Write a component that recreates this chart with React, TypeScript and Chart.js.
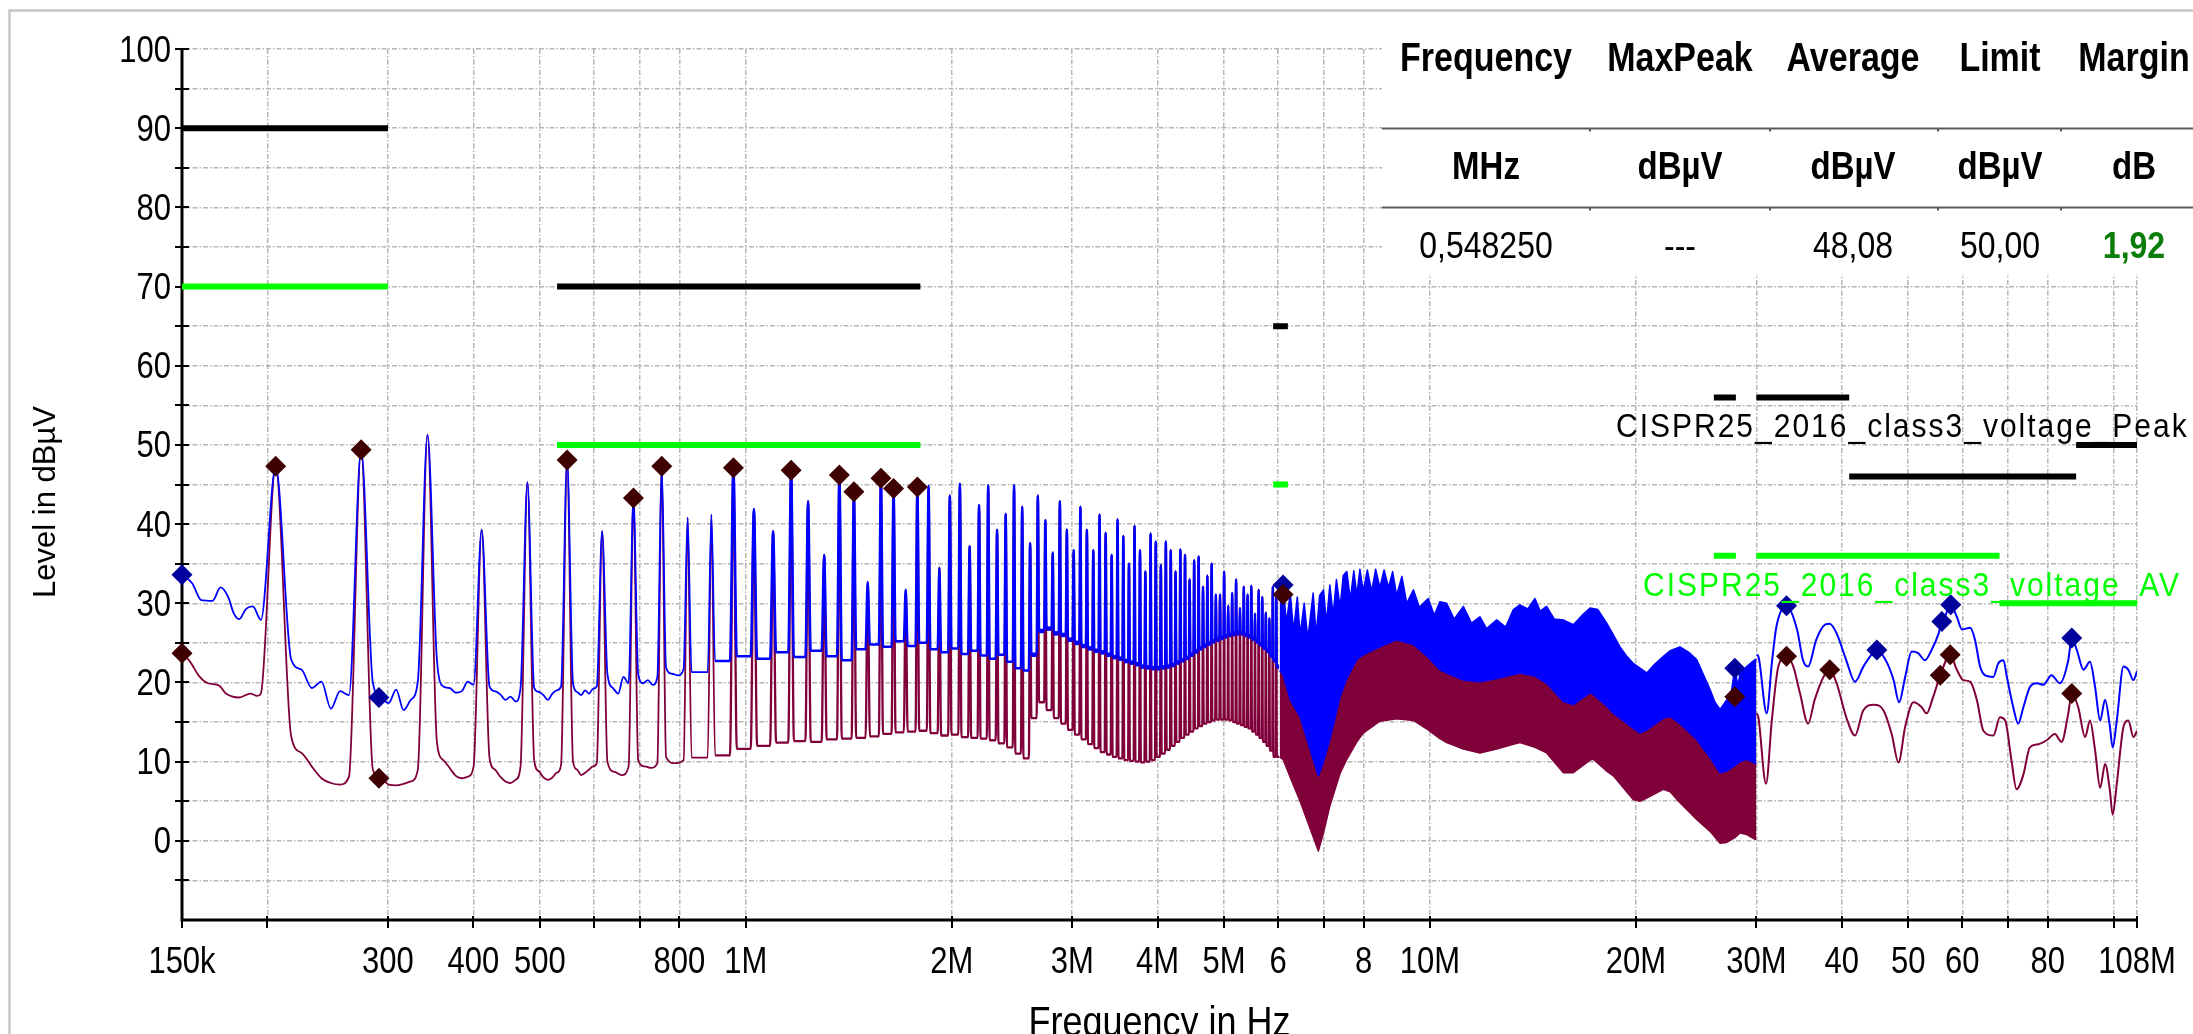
import React, { useEffect, useRef } from 'react';
import { Chart, registerables } from 'chart.js';

Chart.register(...registerables);

// ---------------- axes ----------------
const xMinHz = 150e3;
const xMaxHz = 108e6;
const xTickHz = [150e3, 200e3, 300e3, 400e3, 500e3, 600e3, 700e3, 800e3, 1e6, 2e6, 3e6, 4e6, 5e6, 6e6, 7e6, 8e6, 10e6, 20e6, 30e6, 40e6, 50e6, 60e6, 70e6, 80e6, 100e6, 108e6];
const xTickLabels = ['150k', '', '300', '400', '500', '', '', '800', '1M', '2M', '3M', '4M', '5M', '6', '', '8', '10M', '20M', '30M', '40', '50', '60', '', '80', '', '108M'];
const yTicks = [-10, -5, 0, 5, 10, 15, 20, 25, 30, 35, 40, 45, 50, 55, 60, 65, 70, 75, 80, 85, 90, 95, 100];
const yTickLabels = ['', '', '0', '', '10', '', '20', '', '30', '', '40', '', '50', '', '60', '', '70', '', '80', '', '90', '', '100'];
const xTitle = 'Frequency in Hz';
const yTitle = 'Level in dBµV';

// ---------------- result table ----------------
const tableHeaders = ['Frequency', 'MaxPeak', 'Average', 'Limit', 'Margin'];
const tableUnits = ['MHz', 'dBµV', 'dBµV', 'dBµV', 'dB'];
const tableValues = ['0,548250', '---', '48,08', '50,00', '1,92'];

// ---------------- limit lines (MHz, dBµV) ----------------
const peakLimitName = 'CISPR25_2016_class3_voltage_Peak';
const peakLimitStartMHz = [0.15, 0.53, 5.9, 26, 30, 41, 88];
const peakLimitEndMHz = [0.3, 1.8, 6.2, 28, 41, 88, 108];
const peakLimitLevel = [90, 70, 65, 56, 56, 46, 50];
const avLimitName = 'CISPR25_2016_class3_voltage_AV';
const avLimitStartMHz = [0.15, 0.53, 5.9, 26, 30, 68];
const avLimitEndMHz = [0.3, 1.8, 6.2, 28, 68, 108];
const avLimitLevel = [70, 50, 45, 36, 36, 30];

// ---------------- traces: 150k .. 196k ----------------
const peakStartMHz = [0.15, 0.1553, 0.16, 0.1662, 0.1708, 0.1752, 0.1786, 0.1819, 0.1861, 0.1904, 0.1956];
const peakStartLevel = [33.6, 32.5, 30.4, 30.3, 32.0, 30.8, 28.7, 28.0, 29.3, 29.6, 27.9];
const avgStartMHz = [0.15, 0.1542, 0.1589, 0.1637, 0.17, 0.1739, 0.1819, 0.1888, 0.1932, 0.1956];
const avgStartLevel = [23.7, 22.6, 20.8, 19.9, 19.6, 18.6, 18.1, 18.6, 18.3, 18.6];

// ---------------- harmonic lines 0.2 .. 6 MHz ----------------
const harmonicMHz = [
  0.2056, 0.2741, 0.3427, 0.4112, 0.4797, 0.5482, 0.6168, 0.6853, 0.7538, 0.8224,
  0.8909, 0.9594, 1.0280, 1.0965, 1.1650, 1.2335, 1.3021, 1.3706, 1.4391, 1.5077,
  1.5762, 1.6447, 1.7133, 1.7818, 1.8503, 1.9188, 1.9874, 2.0559, 2.1244, 2.1930,
  2.2615, 2.3300, 2.3986, 2.4671, 2.5356, 2.6041, 2.6727, 2.7412, 2.8097, 2.8783,
  2.9468, 3.0153, 3.0839, 3.1524, 3.2209, 3.2894, 3.3580, 3.4265, 3.4950, 3.5636,
  3.6321, 3.7006, 3.7692, 3.8377, 3.9062, 3.9747, 4.0433, 4.1118, 4.1803, 4.2489,
  4.3174, 4.3859, 4.4545, 4.5230, 4.5915, 4.6600, 4.7286, 4.7971, 4.8656, 4.9342,
  5.0027, 5.0712, 5.1398, 5.2083, 5.2768, 5.3453, 5.4139, 5.4824, 5.5509, 5.6195,
  5.6880, 5.7565, 5.8251, 5.8936, 5.9621,
];
const harmonicLevel = [
  47.3, 49.4, 51.3, 39.3, 45.3, 48.1, 39.1, 43.3, 47.3, 40.8,
  41.2, 47.1, 41.9, 39.1, 46.8, 42.9, 36.1, 46.2, 44.1, 32.7,
  45.8, 44.5, 31.7, 44.7, 44.8, 34.5, 43.6, 45.1, 37.2, 42.4,
  44.9, 39.3, 41.3, 44.9, 42.2, 37.6, 43.6, 40.5, 36.4, 42.9,
  39.3, 36.7, 42.2, 39.3, 36.7, 41.2, 38.9, 36.1, 40.6, 38.5,
  35.0, 39.8, 36.7, 34.0, 38.8, 37.8, 34.8, 37.8, 36.7, 34.0,
  36.8, 36.1, 33.0, 35.4, 35.9, 32.1, 33.5, 35.0, 31.1, 31.1,
  34.0, 29.7, 31.3, 33.0, 29.4, 32.1, 31.1, 32.2, 28.7, 31.7,
  30.8, 28.8, 28.1, 32.1, 31.0,
];
// floor between the first harmonics (readings across each gap)
const peakGapsLow = [
  [22.9, 21.6, 19.3, 20.1, 16.7, 18.9, 18.4],
  [20.0, 18.1, 17.4, 19.1, 16.5, 17.8, 20.1],
  [22.9, 19.5, 19.3, 18.7, 18.9, 20.1, 19.7],
  [19.5, 18.9, 18.5, 17.8, 18.2, 17.6, 19.3],
  [19.3, 18.8, 18.4, 17.8, 18.6, 19.0, 19.5],
  [19.9, 18.8, 18.4, 19.0, 18.6, 19.2, 19.5],
  [21.1, 19.3, 18.6, 20.7, 19.9],
  [21.1, 19.9, 20.3, 19.7, 20.7],
  [21.9, 21.1, 20.9, 21.7],
];
const avgGapsLow = [
  [13.2, 11.1, 9.4, 7.9, 7.3, 7.1, 8.1],
  [9.0, 7.9, 7.1, 7.0, 7.2, 7.5, 9.0],
  [12.5, 10.2, 9.2, 8.2, 7.9, 8.1, 9.4],
  [10.5, 9.0, 8.1, 7.5, 7.3, 7.7, 9.4],
  [10.2, 8.8, 8.0, 7.7, 8.0, 8.6, 9.6],
  [10.0, 9.0, 8.3, 8.6, 9.0, 9.4, 9.8],
  [10.0, 8.7, 8.3, 9.4],
  [10.2, 9.4, 9.2, 9.8],
  [10.6, 9.8, 10.2],
];
// floor between the remaining harmonics (one reading per gap)
const peakGapFloor = [
  21.3, 22.7, 23.3, 23.0, 23.8, 23.2, 24.0, 23.3, 22.8, 24.2,
  24.8, 24.5, 25.2, 24.6, 25.0, 24.2, 23.8, 24.3, 23.6, 24.0,
  23.4, 23.0, 23.5, 22.6, 21.8, 21.5, 23.5, 26.5, 26.8, 26.2,
  26.0, 25.4, 25.0, 24.6, 24.3, 24.0, 23.8, 23.5, 23.2, 23.0,
  22.7, 22.5, 22.3, 22.0, 21.9, 21.8, 21.8, 21.9, 22.0, 22.2,
  22.5, 22.8, 23.1, 23.5, 23.9, 24.3, 24.6, 24.9, 25.2, 25.4,
  25.6, 25.8, 26.0, 26.1, 26.2, 26.2, 26.0, 25.8, 25.5, 25.2,
  24.8, 24.4, 24.0, 23.4, 22.8, 22.0,
];
const avgGapFloor = [
  10.5, 10.8, 11.6, 12.0, 12.4, 12.6, 12.5, 12.8, 12.9, 13.0,
  13.2, 13.5, 13.7, 13.8, 13.9, 13.6, 13.3, 13.4, 13.1, 13.0,
  12.9, 12.7, 12.3, 11.8, 11.0, 10.4, 15.5, 17.5, 16.5, 15.5,
  14.8, 14.0, 13.4, 12.8, 12.2, 11.7, 11.2, 10.9, 10.6, 10.4,
  10.2, 10.1, 10.0, 9.9, 10.0, 10.2, 10.6, 11.0, 11.5, 12.0,
  12.5, 13.0, 13.4, 13.8, 14.2, 14.5, 14.8, 15.0, 15.2, 15.3,
  15.3, 15.3, 15.2, 15.0, 14.8, 14.6, 14.4, 14.2, 13.8, 13.4,
  13.0, 12.5, 12.0, 11.4, 10.6, 10.6,
];

// ---------------- dense comb 6 .. 30 MHz ----------------
// upper edge (tops of the lines and the notches between them)
const combTopMHz = [
  6.03, 6.10, 6.17, 6.25, 6.32, 6.40, 6.46, 6.55, 6.63, 6.75,
  6.82, 6.90, 6.99, 7.06, 7.14, 7.22, 7.30, 7.39, 7.47, 7.56,
  7.65, 7.74, 7.82, 7.90, 7.99, 8.10, 8.22, 8.33, 8.45, 8.57,
  8.70, 8.82, 8.94, 9.10, 9.25, 9.46, 9.65, 9.94, 10.15, 10.34,
  10.58, 10.85, 11.19, 11.5, 11.83, 12.1, 12.52, 12.9, 13.24, 13.54,
  13.9, 14.24, 14.5, 14.81, 15.2, 15.67, 16.2, 16.7, 17.14, 17.6,
  18.13, 18.54, 18.96, 19.4, 19.83, 20.28, 20.74, 21.3, 21.94, 22.44,
  23.2, 23.9, 24.54, 25.1, 25.67, 26.1, 26.55, 27.15, 27.6, 27.9,
  28.2, 28.4, 29.04, 29.5, 29.87, 30.0,
];
const combTopLevel = [
  30.5, 32.3, 27.5, 31.3, 26.5, 30.8, 26.0, 30.0, 25.5, 31.3,
  26.0, 31.0, 31.7, 27.5, 32.3, 28.5, 33.0, 29.5, 33.5, 34.0,
  30.5, 34.1, 31.0, 34.3, 31.5, 34.2, 31.5, 34.3, 32.0, 34.2,
  32.0, 34.0, 31.0, 33.4, 30.0, 31.7, 29.5, 30.6, 28.5, 30.2,
  30.0, 28.0, 29.6, 27.5, 28.3, 26.8, 27.9, 27.0, 29.2, 29.8,
  29.3, 30.6, 29.0, 29.6, 28.0, 27.9, 27.3, 28.5, 29.4, 29.2,
  27.5, 26.0, 24.5, 23.3, 22.4, 21.8, 21.2, 22.3, 23.3, 24.0,
  24.5, 23.8, 22.9, 21.0, 19.1, 17.5, 16.6, 17.8, 19.0, 21.8,
  19.5, 21.2, 22.0, 22.5, 22.9, 22.9,
];
// lower edges of the MaxPeak and Average bands
const bandMHz = [6.03, 6.10, 6.25, 6.46, 6.75, 6.87, 6.99, 7.14, 7.39, 7.56, 7.82, 7.99, 8.45, 8.94, 9.46, 9.94, 10.34, 10.58, 11.19, 11.83, 12.52, 13.24, 13.54, 14.24, 14.81, 15.67, 16.2, 17.14, 17.33, 18.13, 18.54, 18.96, 19.83, 20.28, 20.74, 21.94, 22.44, 23.2, 24.54, 25.67, 26.55, 27.15, 27.9, 28.4, 29.04, 29.87, 30.0];
const bandPeakFloor = [21.5, 21.0, 17.8, 15.7, 10.3, 8.2, 10.0, 12.8, 18.2, 20.5, 22.9, 23.5, 24.5, 25.4, 24.8, 23.2, 21.6, 21.2, 20.3, 20.1, 20.5, 21.0, 21.2, 20.8, 19.9, 17.6, 17.2, 18.7, 18.5, 17.0, 16.1, 15.5, 14.2, 13.6, 14.0, 15.5, 15.7, 14.8, 12.8, 10.5, 8.6, 8.8, 9.5, 10.0, 10.3, 9.8, 9.8];
const bandAvgFloor = [10.6, 10.3, 8.0, 5.0, 0.5, -1.3, 1.0, 4.4, 8.5, 10.3, 12.5, 13.6, 15.1, 15.4, 15.2, 14.0, 12.9, 12.4, 11.6, 11.1, 11.6, 12.2, 12.4, 11.8, 11.1, 8.6, 8.6, 10.2, 10.3, 8.8, 8.2, 7.2, 5.2, 5.0, 5.4, 6.5, 6.2, 4.8, 2.7, 1.2, -0.3, -0.2, 0.4, 1.0, 0.8, 0.2, 0.2];

// ---------------- traces 30 .. 108 MHz ----------------
const peakHighMHz = [30.03, 30.2, 31.06, 31.6, 32.1, 33.2, 34.4, 35.1, 35.7, 36.7, 37.8, 38.4, 39.3, 40.6, 41.8, 43.0, 44.0, 45.0, 46.5, 47.6, 48.5, 49.5, 50.6, 51.7, 52.9, 54.1, 55.4, 56.0, 56.6, 57.6, 58.9, 59.9, 61.6, 62.6, 63.7, 64.8, 66.6, 67.7, 68.9, 69.7, 71.2, 72.4, 73.7, 75.3, 77.1, 78.8, 81.0, 83.3, 85.7, 86.7, 88.2, 90.2, 92.2, 93.8, 95.4, 97.0, 98.6, 99.5, 100.9, 103.2, 104.9, 106.7, 108];
const peakHighLevel = [23.5, 23.3, 16.1, 22.4, 27.1, 29.7, 26.7, 22.8, 22.0, 25.4, 27.3, 27.4, 26.2, 22.8, 20.1, 22.0, 23.3, 24.1, 22.6, 20.3, 17.5, 20.7, 23.9, 23.7, 22.8, 24.1, 26.2, 27.7, 28.3, 29.8, 28.3, 26.7, 26.9, 25.4, 22.0, 20.9, 20.7, 22.4, 22.8, 20.7, 16.9, 14.8, 16.9, 19.4, 19.9, 19.7, 20.9, 19.9, 22.8, 25.6, 24.1, 21.6, 22.6, 19.4, 15.2, 17.8, 14.4, 11.8, 15.2, 22.0, 21.6, 20.3, 21.4];
const avgHighMHz = [30.03, 30.2, 30.99, 31.6, 32.3, 33.2, 33.97, 34.75, 35.7, 36.5, 37.6, 38.4, 39.3, 40.6, 41.8, 43.0, 44.5, 46.0, 47.3, 48.4, 49.5, 50.9, 52.3, 53.2, 54.4, 55.7, 57.6, 58.9, 60.2, 61.6, 63.0, 64.4, 66.6, 68.1, 69.3, 70.8, 72.0, 73.7, 75.3, 77.5, 79.7, 81.9, 83.8, 85.7, 86.7, 88.6, 90.7, 92.2, 93.8, 95.4, 97.0, 98.6, 99.5, 100.9, 103.2, 104.9, 106.7, 108];
const avgHighLevel = [16.1, 15.6, 7.2, 15.2, 22.0, 23.3, 22.0, 18.6, 14.8, 17.8, 20.7, 21.6, 19.9, 15.6, 13.3, 16.5, 17.2, 16.5, 13.5, 9.9, 14.4, 17.5, 16.9, 16.1, 18.2, 20.9, 23.5, 21.6, 20.3, 20.1, 17.8, 13.9, 13.3, 15.6, 15.2, 10.1, 6.5, 8.4, 11.8, 12.2, 12.7, 13.5, 12.5, 16.1, 18.6, 16.9, 13.1, 15.2, 11.4, 6.7, 9.7, 6.3, 3.3, 7.2, 14.4, 15.2, 13.1, 13.9];

// ---------------- markers ----------------
const peakMarkerMHz = [0.15, 0.291, 6.10, 27.9, 33.2, 45.0, 56.0, 57.7, 86.7];
const peakMarkerLevel = [33.6, 18.1, 32.3, 21.8, 29.7, 24.1, 27.7, 29.8, 25.6];
const avgMarkerMHz = [0.15, 0.2056, 0.2741, 0.291, 0.5482, 0.6853, 0.7538, 0.9594, 1.165, 1.3706, 1.4391, 1.5762, 1.6447, 1.7818, 6.10, 27.9, 33.2, 38.4, 55.7, 57.6, 86.7];
const avgMarkerLevel = [23.7, 47.3, 49.4, 7.9, 48.1, 43.3, 47.3, 47.1, 46.8, 46.2, 44.1, 45.8, 44.5, 44.7, 31.1, 18.2, 23.3, 21.6, 20.9, 23.5, 18.6];

// ---------------- styles ----------------
const FONT = "'Liberation Sans', Arial, sans-serif";
const TEXT_STRETCH = 1.17; // the original rendering uses tall, narrow glyphs
const BLUE = '#0000ff';
const MAROON = '#80003a';
const BLUE_MARK = '#00009c';
const MAROON_MARK = '#3e0000';
const GREEN = '#00ff00';
const GRID = '#b6b6b6';
const MHZ = 1e6;
const SKIRT_HZ = 11e3; // half width of a harmonic line at its base (receiver bandwidth)

function pairs(fMHz: number[], lv: number[]) {
  return fMHz.map((f, i) => ({ x: f * MHZ, y: lv[i] }));
}

function combTrace(startF: number[], startL: number[], gapsLow: number[][], gapFloor: number[]) {
  const pts = pairs(startF, startL);
  for (let i = 0; i < harmonicMHz.length; i++) {
    const f = harmonicMHz[i] * MHZ;
    pts.push({ x: f, y: harmonicLevel[i] });
    const next = i + 1 < harmonicMHz.length ? harmonicMHz[i + 1] * MHZ : bandMHz[0] * MHZ;
    const a = f + SKIRT_HZ;
    const b = next - SKIRT_HZ;
    const g = i < gapsLow.length ? gapsLow[i] : [gapFloor[i - gapsLow.length]];
    if (g.length === 1) {
      pts.push({ x: a, y: g[0] }, { x: b, y: g[0] });
    } else {
      g.forEach((v, j) => pts.push({ x: a + ((b - a) * j) / (g.length - 1), y: v }));
    }
  }
  return pts;
}

function limitData(s: number[], e: number[], lv: number[]) {
  const out: any[] = [];
  s.forEach((f, i) => {
    if (i > 0) out.push({ x: ((e[i - 1] + f) / 2) * MHZ, y: null });
    out.push({ x: f * MHZ, y: lv[i] }, { x: e[i] * MHZ, y: lv[i] });
  });
  return out;
}

// the MaxPeak floor above 2.6 MHz is a dense noisy band: draw it wider
function peakSegmentWidth(c: any) {
  const x0 = c.p0.parsed.x;
  const flat = c.p0.parsed.y === c.p1.parsed.y;
  if (x0 < 0.9e6) return 1.8;
  if (flat && x0 > 2.6e6) return 4.5;
  return 2.5;
}
function avgSegmentWidth(c: any) {
  return c.p0.parsed.x < 0.9e6 ? 1.8 : 2.3;
}

function tallText(ctx: CanvasRenderingContext2D, text: string, x: number, baseline: number, k = TEXT_STRETCH) {
  ctx.save();
  ctx.translate(x, baseline);
  ctx.scale(1, k);
  ctx.fillText(text, 0, 0);
  ctx.restore();
}

const decorPlugin = {
  id: 'decor',
  beforeDraw(chart: any) {
    const ctx = chart.ctx;
    ctx.save();
    ctx.fillStyle = '#ffffff';
    ctx.fillRect(0, 0, chart.width, chart.height);
    ctx.strokeStyle = '#c6c6c6';
    ctx.lineWidth = 2.5;
    ctx.beginPath();
    ctx.moveTo(9.5, chart.height);
    ctx.lineTo(9.5, 10.5);
    ctx.lineTo(chart.width, 10.5);
    ctx.stroke();
    ctx.restore();
  },
  beforeDatasetsDraw(chart: any) {
    const { ctx } = chart;
    const xs = chart.scales.x;
    const ys = chart.scales.y;
    ctx.save();
    // result table backdrop
    ctx.fillStyle = '#ffffff';
    ctx.fillRect(1382, 14, chart.width - 1382, 260);
    // axes
    const left = xs.getPixelForValue(xMinHz);
    const right = xs.getPixelForValue(xMaxHz);
    const top = ys.getPixelForValue(100);
    const bottom = ys.getPixelForValue(-10);
    ctx.strokeStyle = '#000';
    ctx.lineWidth = 3;
    ctx.beginPath();
    ctx.moveTo(left, top - 1);
    ctx.lineTo(left, bottom);
    ctx.lineTo(right + 1, bottom);
    ctx.stroke();
    ctx.lineWidth = 2;
    ctx.beginPath();
    yTicks.forEach((v) => {
      if (v === -10) return;
      const py = Math.round(ys.getPixelForValue(v));
      ctx.moveTo(left - 7, py);
      ctx.lineTo(left + 7, py);
    });
    xTickHz.forEach((v) => {
      const px = Math.round(xs.getPixelForValue(v));
      ctx.moveTo(px, bottom - 4);
      ctx.lineTo(px, bottom + 8);
    });
    ctx.stroke();
    // tick labels
    ctx.fillStyle = '#000';
    ctx.font = `31px ${FONT}`;
    ctx.textAlign = 'right';
    yTicks.forEach((v, i) => {
      if (!yTickLabels[i]) return;
      tallText(ctx, yTickLabels[i], left - 11, ys.getPixelForValue(v) + 12.5);
    });
    ctx.textAlign = 'center';
    xTickHz.forEach((v, i) => {
      if (!xTickLabels[i]) return;
      tallText(ctx, xTickLabels[i], xs.getPixelForValue(v), 973);
    });
    ctx.restore();
  },
  afterDraw(chart: any) {
    const { ctx } = chart;
    const ca = chart.chartArea;
    ctx.save();
    ctx.fillStyle = '#000';
    // axis titles
    ctx.font = `36px ${FONT}`;
    ctx.textAlign = 'center';
    ctx.textBaseline = 'alphabetic';
    tallText(ctx, xTitle, (ca.left + ca.right) / 2, 1036);
    ctx.save();
    ctx.translate(55, 502);
    ctx.rotate(-Math.PI / 2);
    ctx.font = `31px ${FONT}`;
    ctx.fillText(yTitle, 0, 0);
    ctx.restore();
    // limit names
    ctx.textAlign = 'left';
    ctx.font = `30px ${FONT}`;
    (ctx as any).letterSpacing = '2px';
    ctx.fillStyle = '#000';
    tallText(ctx, peakLimitName, 1616, 437, 1.1);
    ctx.fillStyle = GREEN;
    tallText(ctx, avLimitName, 1643, 596, 1.1);
    (ctx as any).letterSpacing = '0px';
    // result table
    const colX = [1486, 1680, 1853, 2000, 2134];
    ctx.textAlign = 'center';
    ctx.fillStyle = '#000';
    ctx.font = `bold 34px ${FONT}`;
    tableHeaders.forEach((t, i) => tallText(ctx, t, colX[i], 71));
    ctx.font = `bold 33px ${FONT}`;
    tableUnits.forEach((t, i) => tallText(ctx, t, colX[i], 179));
    tableValues.forEach((t, i) => {
      const last = i === tableValues.length - 1;
      ctx.font = last ? `bold 32px ${FONT}` : `32px ${FONT}`;
      ctx.fillStyle = last ? '#0b7d0b' : '#000';
      tallText(ctx, t, colX[i], 258);
    });
    ctx.strokeStyle = '#5a5a5a';
    ctx.lineWidth = 2;
    ctx.beginPath();
    [128.5, 207.5].forEach((ly) => {
      ctx.moveTo(1382, ly);
      ctx.lineTo(chart.width, ly);
      [1590, 1770, 1938, 2061].forEach((tx) => {
        ctx.moveTo(tx, ly);
        ctx.lineTo(tx, ly + 3);
      });
    });
    ctx.stroke();
    ctx.restore();
  },
};

export default function App() {
  const canvasRef = useRef<HTMLCanvasElement | null>(null);

  useEffect(() => {
    const canvas = canvasRef.current;
    if (!canvas) return;

    const lineBase = { pointRadius: 0, borderJoinStyle: 'round', fill: false };
    const chart = new Chart(canvas, {
      type: 'line',
      data: {
        datasets: [
          {
            label: 'Average markers',
            data: pairs(avgMarkerMHz, avgMarkerLevel),
            showLine: false,
            pointStyle: 'rectRot',
            pointRadius: 10.5,
            pointBackgroundColor: MAROON_MARK,
            pointBorderColor: MAROON_MARK,
            pointBorderWidth: 0,
            clip: false,
            order: 0,
          },
          {
            label: 'MaxPeak markers',
            data: pairs(peakMarkerMHz, peakMarkerLevel),
            showLine: false,
            pointStyle: 'rectRot',
            pointRadius: 10.5,
            pointBackgroundColor: BLUE_MARK,
            pointBorderColor: BLUE_MARK,
            pointBorderWidth: 0,
            clip: false,
            order: 1,
          },
          {
            label: peakLimitName,
            data: limitData(peakLimitStartMHz, peakLimitEndMHz, peakLimitLevel),
            ...lineBase,
            borderColor: '#000',
            borderWidth: 6,
            borderCapStyle: 'butt',
            spanGaps: false,
            order: 2,
          },
          {
            label: avLimitName,
            data: limitData(avLimitStartMHz, avLimitEndMHz, avLimitLevel),
            ...lineBase,
            borderColor: GREEN,
            borderWidth: 6,
            borderCapStyle: 'butt',
            spanGaps: false,
            order: 3,
          },
          {
            label: 'MaxPeak',
            data: combTrace(peakStartMHz, peakStartLevel, peakGapsLow, peakGapFloor),
            ...lineBase,
            borderColor: BLUE,
            borderWidth: 2,
            segment: { borderWidth: peakSegmentWidth },
            cubicInterpolationMode: 'monotone',
            order: 4,
          },
          {
            label: 'MaxPeak high',
            data: pairs(peakHighMHz, peakHighLevel),
            ...lineBase,
            borderColor: BLUE,
            borderWidth: 2,
            cubicInterpolationMode: 'monotone',
            order: 4,
          },
          {
            label: 'MaxPeak comb top',
            data: pairs(combTopMHz, combTopLevel),
            ...lineBase,
            borderColor: BLUE,
            borderWidth: 1.5,
            fill: { target: '+1' },
            backgroundColor: BLUE,
            order: 6,
          },
          {
            label: 'MaxPeak comb floor',
            data: pairs(bandMHz, bandPeakFloor),
            ...lineBase,
            borderColor: BLUE,
            borderWidth: 1.5,
            fill: { target: '+1' },
            backgroundColor: MAROON,
            order: 7,
          },
          {
            label: 'Average comb floor',
            data: pairs(bandMHz, bandAvgFloor),
            ...lineBase,
            borderColor: MAROON,
            borderWidth: 1.5,
            order: 8,
          },
          {
            label: 'Average',
            data: combTrace(avgStartMHz, avgStartLevel, avgGapsLow, avgGapFloor),
            ...lineBase,
            borderColor: MAROON,
            borderWidth: 2,
            segment: { borderWidth: avgSegmentWidth },
            cubicInterpolationMode: 'monotone',
            order: 9,
          },
          {
            label: 'Average high',
            data: pairs(avgHighMHz, avgHighLevel),
            ...lineBase,
            borderColor: MAROON,
            borderWidth: 2,
            cubicInterpolationMode: 'monotone',
            order: 9,
          },
        ] as any,
      },
      options: {
        animation: false,
        responsive: false,
        devicePixelRatio: 1,
        events: [],
        layout: { padding: { top: 49, right: 56, left: 0, bottom: 0 } },
        plugins: { legend: { display: false }, tooltip: { enabled: false }, title: { display: false } },
        scales: {
          x: {
            type: 'logarithmic',
            min: xMinHz,
            max: xMaxHz,
            afterBuildTicks: (axis: any) => {
              axis.ticks = xTickHz.map((v) => ({ value: v }));
            },
            afterFit: (axis: any) => {
              axis.height = 114;
            },
            grid: { color: GRID, lineWidth: 1.5, drawTicks: false },
            border: { display: false, dash: [5, 2, 1.5, 2] },
            ticks: { display: false, autoSkip: false, maxRotation: 0, minRotation: 0 },
          },
          y: {
            type: 'linear',
            min: -10,
            max: 100,
            afterBuildTicks: (axis: any) => {
              axis.ticks = yTicks.map((v) => ({ value: v }));
            },
            afterFit: (axis: any) => {
              axis.width = 182;
            },
            grid: { color: GRID, lineWidth: 1.5, drawTicks: false },
            border: { display: false, dash: [5, 2, 1.5, 2] },
            ticks: { display: false },
          },
        },
      } as any,
      plugins: [decorPlugin],
    });
    return () => chart.destroy();
  }, []);

  return (
    <div style={{ position: 'fixed', left: 0, top: 0, width: 2193, height: 1034, background: '#fff' }}>
      <canvas ref={canvasRef} width={2193} height={1034} style={{ display: 'block', width: 2193, height: 1034 }} />
    </div>
  );
}
